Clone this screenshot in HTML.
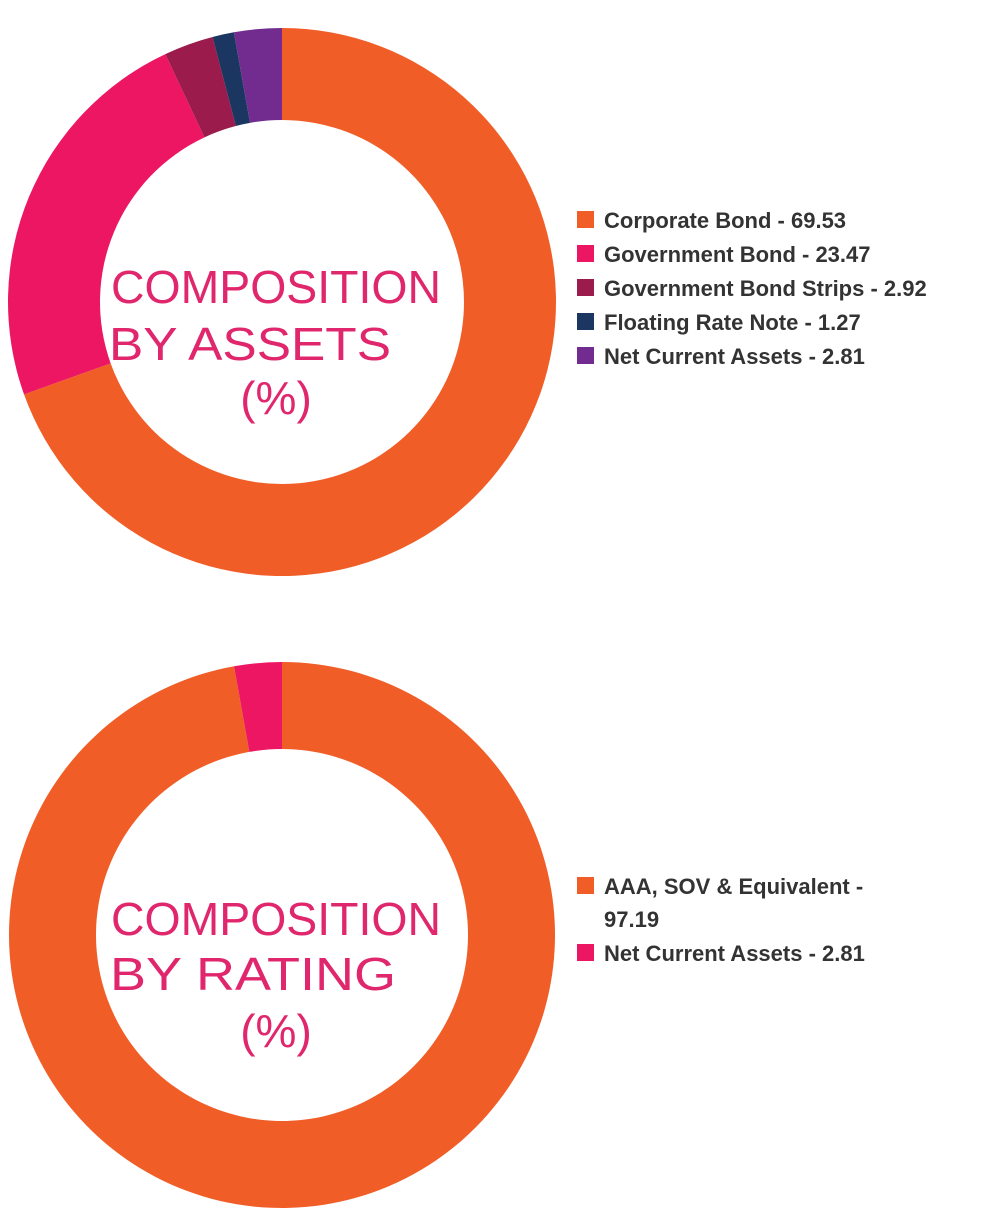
<!DOCTYPE html>
<html><head><meta charset="utf-8"><style>
html,body{margin:0;padding:0;background:#fff;}
svg{display:block;}
</style></head><body>
<svg id="chart" width="998" height="1224" viewBox="0 0 998 1224" xmlns="http://www.w3.org/2000/svg">
<g id="d1"></g>
<g id="d2"></g>
<g font-family="Liberation Sans, sans-serif" font-size="46" fill="#e0266c" text-anchor="middle">
<text x="276" y="303" textLength="330" lengthAdjust="spacingAndGlyphs">COMPOSITION</text>
<text x="250" y="360" textLength="282" lengthAdjust="spacingAndGlyphs">BY ASSETS</text>
<text x="276" y="414">(%)</text>
<text x="276" y="935" textLength="330" lengthAdjust="spacingAndGlyphs">COMPOSITION</text>
<text x="253" y="990" textLength="286" lengthAdjust="spacingAndGlyphs">BY RATING</text>
<text x="276" y="1047">(%)</text>
</g>
<g id="leg" font-family="Liberation Sans, sans-serif" font-size="22" font-weight="bold" fill="#333"></g>
</svg>
<script>
const assetLabels = ["Corporate Bond","Government Bond","Government Bond Strips","Floating Rate Note","Net Current Assets"];
const assetValues = [69.53,23.47,2.92,1.27,2.81];
const assetColors = ["#f15d27","#ec1663","#9b1b4d","#1b3761","#722c8f"];
const ratingLabels = ["AAA, SOV & Equivalent","Net Current Assets"];
const ratingValues = [97.19,2.81];
const ratingColors = ["#f15d27","#ec1663"];
const NS="http://www.w3.org/2000/svg";
function donut(g,vals,cols,labels,cx,cy,ro,ri){
  const tot=vals.reduce((a,b)=>a+b,0);let a0=0;
  vals.forEach((v,i)=>{
    const a1=a0+v/tot*2*Math.PI;
    const p=(r,a)=>[cx+r*Math.sin(a),cy-r*Math.cos(a)];
    const [x0,y0]=p(ro,a0),[x1,y1]=p(ro,a1),[x2,y2]=p(ri,a1),[x3,y3]=p(ri,a0);
    const lg=(a1-a0)>Math.PI?1:0;
    const path=document.createElementNS(NS,"path");
    path.setAttribute("d",`M${x0},${y0}A${ro},${ro} 0 ${lg} 1 ${x1},${y1}L${x2},${y2}A${ri},${ri} 0 ${lg} 0 ${x3},${y3}Z`);
    path.setAttribute("fill",cols[i]);
    
    
    g.appendChild(path);a0=a1;
  });
}
donut(document.getElementById("d1"),assetValues,assetColors,assetLabels,282,302,274,182);
donut(document.getElementById("d2"),ratingValues,ratingColors,ratingLabels,282,935,273,186);
const leg=document.getElementById("leg");
function entry(y,col,lines,name){
  const r=document.createElementNS(NS,"rect");
  r.setAttribute("x",577);r.setAttribute("y",y-17);r.setAttribute("width",17);r.setAttribute("height",17);r.setAttribute("fill",col);
  
  
  leg.appendChild(r);
  lines.forEach((l,k)=>{
    const t=document.createElementNS(NS,"text");
    t.setAttribute("x",604);t.setAttribute("y",y+k*33);t.textContent=l;
    
    
    leg.appendChild(t);
  });
}
assetLabels.forEach((l,i)=>entry(228+i*34,assetColors[i],[l+" - "+assetValues[i].toFixed(2)],'legend-asset-'+i));
entry(894,ratingColors[0],[ratingLabels[0]+" -",ratingValues[0].toFixed(2)],'legend-rating-0');
entry(961,ratingColors[1],[ratingLabels[1]+" - "+ratingValues[1].toFixed(2)],'legend-rating-1');
</script>
</body></html>
